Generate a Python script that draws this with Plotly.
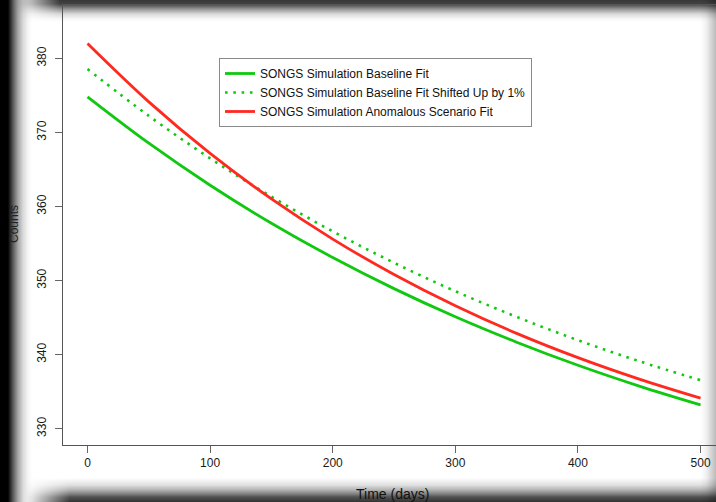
import base64
import struct
import zlib

import plotly.graph_objects as go

# ---- data ----
days = [0, 50, 100, 150, 200, 250, 300, 350, 400, 450, 500]
baseline_fit = [374.80, 368.54, 362.87, 357.74, 353.11, 348.91, 345.11, 341.68, 338.56, 335.75, 333.21]
baseline_up1 = [378.55, 372.23, 366.50, 361.32, 356.64, 352.40, 348.56, 345.10, 341.95, 339.11, 336.54]
anomalous_fit = [382.00, 374.12, 367.16, 361.02, 355.60, 350.82, 346.60, 342.87, 339.59, 336.69, 334.12]
x_ticks = [0, 100, 200, 300, 400, 500]
y_ticks = [330, 340, 350, 360, 370, 380]

GREEN = "#10c810"
RED = "#ff2a1f"
FONT = "Liberation Sans, Arial, Helvetica, sans-serif"

W, H = 716, 502
ML, MR, MT, MB = 63, 0, 5, 57
PW, PH = W - ML - MR, H - MT - MB


def xp(px):
    return (px - ML) / PW


def yp(py):
    return (H - MB - py) / PH


# ---- decorative shadow frame (page photo vignette) as a greyscale PNG ----
def interp(keys, v):
    if v <= keys[0][0]:
        return keys[0][1]
    for (a, da), (b, db) in zip(keys, keys[1:]):
        if a <= v <= b:
            return da + (db - da) * (v - a) / (b - a)
    return keys[-1][1]


left_keys = [(0, 1.0), (8, 1.0), (13, 0.65), (18, 0.35), (23, 0.15), (28, 0.04), (32, 0.0)]
top_keys = [(0, 0.78), (4, 0.74), (9, 0.42), (14, 0.15), (19, 0.03), (22, 0.0)]
top_x = [(0, 0.0), (15, 0.0), (60, 1.0)]
bot_keys = [(478, 0.0), (485, 0.12), (490, 0.3), (494, 0.5), (497, 0.68), (502, 0.8)]
bot_x = [(0, 0.0), (25, 0.0), (70, 1.0)]
right_keys = [(700, 0.0), (706, 0.05), (712, 0.18), (716, 0.27)]


def frame_png():
    lx = [interp(left_keys, x + 0.5) for x in range(W)]
    rx = [interp(right_keys, x + 0.5) for x in range(W)]
    tx = [interp(top_x, x + 0.5) for x in range(W)]
    bx = [interp(bot_x, x + 0.5) for x in range(W)]
    raw = bytearray()
    for y in range(H):
        ty = interp(top_keys, y + 0.5)
        by = interp(bot_keys, y + 0.5)
        raw.append(0)
        for x in range(W):
            keep = (1 - lx[x]) * (1 - rx[x]) * (1 - ty * tx[x]) * (1 - by * bx[x])
            raw.append(max(0, min(255, int(round(255 * keep)))))

    def chunk(t, d):
        return struct.pack(">I", len(d)) + t + d + struct.pack(">I", zlib.crc32(t + d) & 0xFFFFFFFF)

    ihdr = struct.pack(">IIBBBBB", W, H, 8, 0, 0, 0, 0)
    png = b"\x89PNG\r\n\x1a\n" + chunk(b"IHDR", ihdr) + chunk(b"IDAT", zlib.compress(bytes(raw), 9)) + chunk(b"IEND", b"")
    return "data:image/png;base64," + base64.b64encode(png).decode("ascii")


fig = go.Figure()
fig.add_trace(go.Scatter(x=days, y=baseline_fit, mode="lines", name="SONGS Simulation Baseline Fit",
                         line=dict(color=GREEN, width=2.8, shape="spline")))
fig.add_trace(go.Scatter(x=days, y=baseline_up1, mode="lines", name="SONGS Simulation Baseline Fit Shifted Up by 1%",
                         line=dict(color=GREEN, width=2.6, dash="2.6px,5.7px", shape="spline")))
fig.add_trace(go.Scatter(x=days, y=anomalous_fit, mode="lines", name="SONGS Simulation Anomalous Scenario Fit",
                         line=dict(color=RED, width=2.8, shape="spline")))

fig.update_layout(
    width=W, height=H,
    margin=dict(l=ML, r=MR, t=MT, b=MB, pad=0),
    paper_bgcolor="white",
    plot_bgcolor="rgba(0,0,0,0)",
    font=dict(family=FONT, size=12, color="#1a1a1a"),
    images=[dict(source=frame_png(), xref="paper", yref="paper", x=xp(0), y=yp(0),
                 sizex=W / PW, sizey=H / PH, xanchor="left", yanchor="top",
                 sizing="stretch", layer="below", opacity=1)],
    showlegend=True,
    legend=dict(x=xp(219), y=yp(58), xanchor="left", yanchor="top",
                bgcolor="white", bordercolor="#8a8a8a", borderwidth=1,
                font=dict(family=FONT, size=12, color="#111111")),
    xaxis=dict(range=[-20, 512.6], tickvals=x_ticks, ticktext=[str(v) for v in x_ticks],
               showgrid=False, zeroline=False, showline=True, linecolor="#555555", linewidth=1,
               mirror=True, ticks="outside", ticklen=7, tickcolor="#666666", tickwidth=1,
               tickfont=dict(size=12, color="#1a1a1a")),
    yaxis=dict(range=[327.8, 387.2], tickvals=y_ticks, ticktext=[str(v) for v in y_ticks],
               showgrid=False, zeroline=False, showline=True, linecolor="#555555", linewidth=1,
               ticks="outside", ticklen=7, tickcolor="#666666", tickwidth=1, tickangle=-90,
               ticklabelstandoff=4, tickfont=dict(size=12, color="#1a1a1a")),
    annotations=[
        dict(text="Time (days)", xref="paper", yref="paper", x=xp(392), y=yp(494),
             xanchor="center", yanchor="middle", showarrow=False,
             font=dict(family=FONT, size=14, color="#111111")),
        dict(text="Counts", xref="paper", yref="paper", x=xp(14), y=yp(224),
             xanchor="center", yanchor="middle", showarrow=False, textangle=-90,
             font=dict(family=FONT, size=12, color="#222222")),
    ],
)

fig.write_html("out.html")
